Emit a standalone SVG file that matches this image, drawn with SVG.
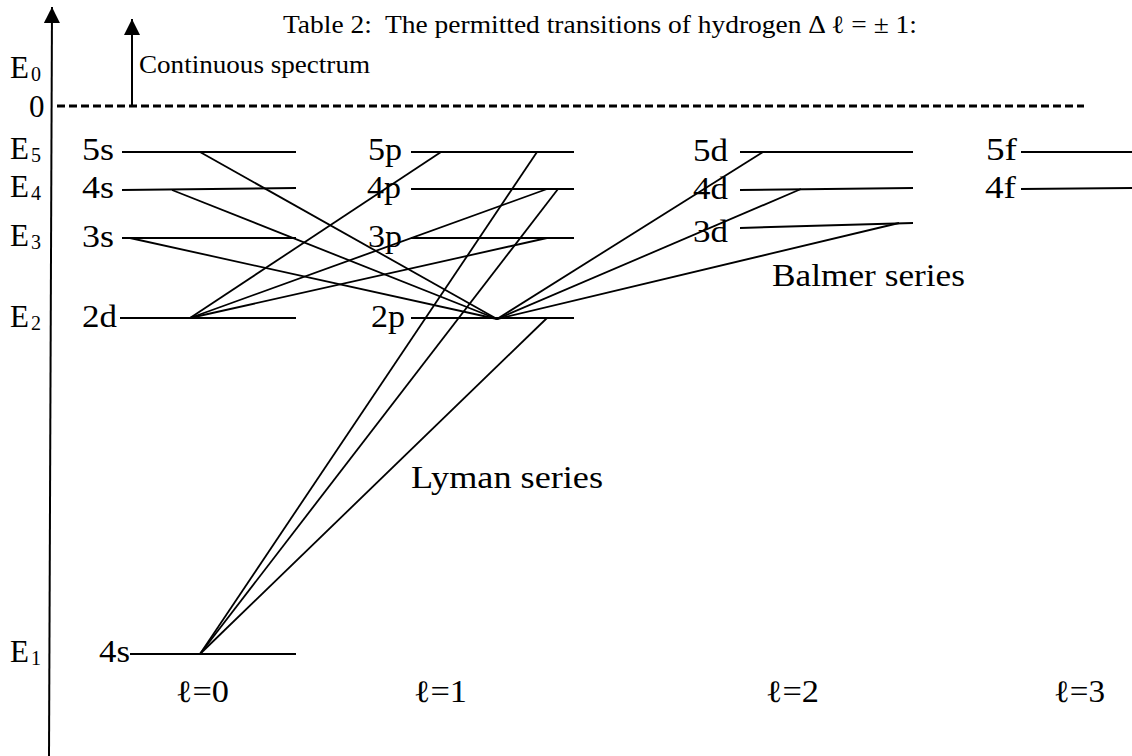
<svg xmlns="http://www.w3.org/2000/svg" width="1132" height="756" viewBox="0 0 1132 756" font-family="'Liberation Serif', 'Times New Roman', Times, serif">
<style>
text{font-family:'Liberation Serif','Times New Roman',Times,serif;fill:#000;white-space:pre}
.lab{font-size:31px}
.sub{font-size:20px}
.cap{font-size:25px}
.lvl{stroke:#000;stroke-width:2;fill:none}
.tr{stroke:#000;stroke-width:1.8;fill:none}
</style>
<defs>
<marker id="ah" viewBox="0 0 10 10" refX="10" refY="5" markerWidth="16" markerHeight="16" markerUnits="userSpaceOnUse" orient="auto">
<path d="M0,0 L10,5 L0,10 z" fill="#000"/>
</marker>
</defs>
<rect width="1132" height="756" fill="#fff"/>
<g id="axis">
<line x1="49" y1="756" x2="52" y2="7" stroke="#000" stroke-width="2" marker-end="url(#ah)"/>
<line x1="132" y1="106" x2="132" y2="19" stroke="#000" stroke-width="2" marker-end="url(#ah)"/>
<line x1="57" y1="106" x2="1084" y2="106" stroke="#000" stroke-width="3" stroke-dasharray="8 4"/>
</g>
<g id="title"><text class="cap" x="283" y="33" textLength="634" lengthAdjust="spacingAndGlyphs">Table 2:  The permitted transitions of hydrogen Δ ℓ = ± 1:</text></g>
<g id="continuous"><text class="cap" x="139" y="73" textLength="231" lengthAdjust="spacingAndGlyphs">Continuous spectrum</text></g>
<g id="energy-labels">
<text class="lab" x="10" y="78">E</text><text class="sub" x="31" y="81">0</text>
<text class="lab" x="29" y="117">0</text>
<text class="lab" x="10" y="159">E</text><text class="sub" x="31" y="162">5</text>
<text class="lab" x="10" y="197">E</text><text class="sub" x="31" y="200">4</text>
<text class="lab" x="10" y="246">E</text><text class="sub" x="31" y="249">3</text>
<text class="lab" x="10" y="327">E</text><text class="sub" x="31" y="330">2</text>
<text class="lab" x="10" y="662">E</text><text class="sub" x="31" y="665">1</text>
</g>
<g id="col-s">
<text class="lab" x="82" y="160" textLength="32" lengthAdjust="spacingAndGlyphs">5s</text>
<line class="lvl" x1="122" y1="152" x2="296" y2="152"/>
<text class="lab" x="82" y="198" textLength="32" lengthAdjust="spacingAndGlyphs">4s</text>
<line class="lvl" x1="122" y1="190" x2="296" y2="188"/>
<text class="lab" x="82" y="247" textLength="32" lengthAdjust="spacingAndGlyphs">3s</text>
<line class="lvl" x1="122" y1="238" x2="296" y2="238"/>
<text class="lab" x="82" y="327" textLength="35" lengthAdjust="spacingAndGlyphs">2d</text>
<line class="lvl" x1="120" y1="318" x2="296" y2="318"/>
<text class="lab" x="99" y="662" textLength="31" lengthAdjust="spacingAndGlyphs">4s</text>
<line class="lvl" x1="130" y1="654" x2="296" y2="654"/>
</g>
<g id="col-p">
<text class="lab" x="368" y="160" textLength="34" lengthAdjust="spacingAndGlyphs">5p</text>
<line class="lvl" x1="411" y1="152" x2="574" y2="152"/>
<text class="lab" x="367" y="198" textLength="34" lengthAdjust="spacingAndGlyphs">4p</text>
<line class="lvl" x1="411" y1="189" x2="574" y2="189"/>
<text class="lab" x="368" y="247" textLength="34" lengthAdjust="spacingAndGlyphs">3p</text>
<line class="lvl" x1="411" y1="238" x2="574" y2="238"/>
<text class="lab" x="371" y="327" textLength="34" lengthAdjust="spacingAndGlyphs">2p</text>
<line class="lvl" x1="411" y1="318" x2="574" y2="318"/>
</g>
<g id="col-d">
<text class="lab" x="693" y="161" textLength="35" lengthAdjust="spacingAndGlyphs">5d</text>
<line class="lvl" x1="740" y1="152" x2="913" y2="152"/>
<text class="lab" x="693" y="199" textLength="35" lengthAdjust="spacingAndGlyphs">4d</text>
<line class="lvl" x1="740" y1="190" x2="913" y2="188"/>
<text class="lab" x="693" y="242" textLength="35" lengthAdjust="spacingAndGlyphs">3d</text>
<line class="lvl" x1="740" y1="228" x2="913" y2="223"/>
</g>
<g id="col-f">
<text class="lab" x="986" y="160" textLength="31" lengthAdjust="spacingAndGlyphs">5f</text>
<line class="lvl" x1="1021" y1="152" x2="1132" y2="152"/>
<text class="lab" x="985" y="198" textLength="31" lengthAdjust="spacingAndGlyphs">4f</text>
<line class="lvl" x1="1021" y1="189" x2="1132" y2="188"/>
</g>
<g id="connectors">
<line class="tr" x1="200" y1="152" x2="497" y2="319"/>
<line class="tr" x1="172" y1="190" x2="497" y2="319"/>
<line class="tr" x1="130" y1="238" x2="497" y2="319"/>
<line class="tr" x1="190" y1="318" x2="441" y2="152"/>
<line class="tr" x1="190" y1="318" x2="547" y2="189"/>
<line class="tr" x1="190" y1="318" x2="547" y2="238"/>
<line class="tr" x1="497" y1="319" x2="763" y2="152"/>
<line class="tr" x1="497" y1="319" x2="801" y2="189"/>
<line class="tr" x1="497" y1="319" x2="899" y2="223"/>
<line class="tr" x1="200" y1="654" x2="537" y2="152"/>
<line class="tr" x1="200" y1="654" x2="558" y2="189"/>
<line class="tr" x1="200" y1="654" x2="547" y2="318"/>
</g>
<g id="series-labels">
<text class="lab" x="772" y="286" textLength="193" lengthAdjust="spacingAndGlyphs">Balmer series</text>
<text class="lab" x="411" y="488" textLength="192" lengthAdjust="spacingAndGlyphs">Lyman series</text>
</g>
<g id="l-labels">
<text class="lab" x="176" y="702" textLength="53" lengthAdjust="spacingAndGlyphs">ℓ=0</text>
<text class="lab" x="414" y="702" textLength="53" lengthAdjust="spacingAndGlyphs">ℓ=1</text>
<text class="lab" x="766" y="702" textLength="53" lengthAdjust="spacingAndGlyphs">ℓ=2</text>
<text class="lab" x="1054" y="702" textLength="51" lengthAdjust="spacingAndGlyphs">ℓ=3</text>
</g>
</svg>
